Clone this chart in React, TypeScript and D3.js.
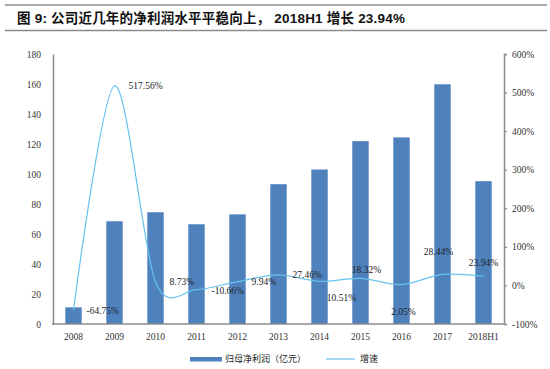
import { useEffect, useRef } from 'react'
import * as d3 from 'd3'

const years = ['2008', '2009', '2010', '2011', '2012', '2013', '2014', '2015', '2016', '2017', '2018H1']
const profit = [11.1, 68.5, 74.5, 66.5, 73.1, 93.2, 103.0, 121.9, 124.4, 159.8, 95.2]
const growth = [-64.75, 517.56, 8.73, -10.66, 9.94, 27.46, 10.51, 18.32, 2.05, 28.44, 23.94]
const leftTicks = [0, 20, 40, 60, 80, 100, 120, 140, 160, 180]
const rightTicks = [-100, 0, 100, 200, 300, 400, 500, 600]

// label placement relative to its point: [anchor, dx, dy]
const labelPlace: [string, number, number][] = [
  ['start', 13, 0], ['start', 14, 0], ['start', 14, 0], ['start', 15, 1], ['start', 14, 0], ['start', 14, 0],
  ['middle', 22, 16], ['middle', 6, -9], ['middle', 2, 27], ['middle', -4, -23], ['middle', 0, -14]
]

const BAR = '#4f81bd'
const LINE = '#66c3ee'
const AXIS = '#8c8c8c'
const SERIF = '"Liberation Serif", "Times New Roman", serif'
const CJK = '"Noto Sans CJK SC", sans-serif'

export default function App() {
  const ref = useRef<SVGSVGElement>(null)

  useEffect(() => {
    const svg = d3.select(ref.current!)
    svg.selectAll('*').remove()

    const m = { left: 53, right: 504, top: 54, bottom: 324 }
    const x = d3.scaleBand().domain(years).range([m.left, m.right]).paddingInner(0.6).paddingOuter(0.3)
    const y = d3.scaleLinear().domain([0, 180]).range([m.bottom, m.top])
    const y2 = d3.scaleLinear().domain([-100, 600]).range([m.bottom, m.top])
    const cx = (d: string) => x(d)! + x.bandwidth() / 2

    // title and rules
    svg.append('line').attr('x1', 5).attr('x2', 547).attr('y1', 5).attr('y2', 5)
      .attr('stroke', AXIS).attr('stroke-width', 1.5)
    svg.append('line').attr('x1', 5).attr('x2', 547).attr('y1', 30.5).attr('y2', 30.5)
      .attr('stroke', AXIS).attr('stroke-width', 1.5)
    svg.append('text').attr('x', 17).attr('y', 23)
      .attr('font-family', `"Liberation Sans", Arial, ${CJK}`).attr('font-weight', 'bold')
      .attr('font-size', 13.5).attr('fill', '#111')
      .attr('textLength', 388).attr('lengthAdjust', 'spacing')
      .text('图 9:  公司近几年的净利润水平平稳向上，  2018H1 增长 23.94%')

    // bars
    svg.append('g').selectAll('rect').data(profit).join('rect')
      .attr('x', (_, i) => x(years[i])!).attr('width', x.bandwidth())
      .attr('y', d => y(d)).attr('height', d => y(0) - y(d))
      .attr('fill', BAR)

    // axes
    const axL = svg.append('g').attr('transform', `translate(${m.left},0)`)
      .call(d3.axisLeft(y).tickValues(leftTicks).tickSize(0).tickPadding(12))
    axL.select('.domain').attr('stroke', AXIS).attr('stroke-width', 1.5)
    axL.selectAll('text').attr('font-family', SERIF).attr('font-size', 9.5).attr('fill', '#333')

    const axR = svg.append('g').attr('transform', `translate(${m.right},0)`)
      .call(d3.axisRight(y2).tickValues(rightTicks).tickSize(3).tickSizeOuter(3).tickPadding(5)
        .tickFormat(d => `${d}%`))
    axR.select('.domain').attr('stroke', AXIS).attr('stroke-width', 1.5)
    axR.selectAll('line').attr('stroke', AXIS).attr('stroke-width', 1.2)
    axR.selectAll('text').attr('font-family', SERIF).attr('font-size', 9.5).attr('fill', '#333')

    const axB = svg.append('g').attr('transform', `translate(0,${m.bottom})`)
      .call(d3.axisBottom(x).tickSize(0).tickPadding(9))
    axB.select('.domain').attr('stroke', AXIS).attr('stroke-width', 1.5)
      .attr('d', `M${m.left - 1},0H${m.right + 1}`)
    axB.selectAll('text').attr('font-family', SERIF).attr('font-size', 9.5).attr('fill', '#333')

    // growth line (smoothed like the spreadsheet original)
    const line = d3.line<number>()
      .x((_, i) => cx(years[i])).y(d => y2(d))
      .curve(d3.curveCardinal.tension(0.1))
    svg.append('path').datum(growth).attr('d', line)
      .attr('fill', 'none').attr('stroke', LINE).attr('stroke-width', 1.2)

    svg.append('g').selectAll('text').data(growth).join('text')
      .attr('x', (_, i) => cx(years[i]) + labelPlace[i][1])
      .attr('y', (d, i) => y2(d) + labelPlace[i][2])
      .attr('dy', '0.35em')
      .attr('text-anchor', (_, i) => labelPlace[i][0])
      .attr('font-family', SERIF).attr('font-size', 9.5).attr('fill', '#222')
      .text(d => `${d.toFixed(2)}%`)

    // legend
    const lg = svg.append('g').attr('transform', 'translate(0,359)')
    lg.append('rect').attr('x', 190).attr('y', -2).attr('width', 32).attr('height', 4.5).attr('fill', BAR)
    lg.append('text').attr('x', 225).attr('dy', '0.35em')
      .attr('font-family', CJK).attr('font-size', 9).attr('fill', '#222').text('归母净利润（亿元）')
    lg.append('line').attr('x1', 326).attr('x2', 355).attr('stroke', LINE).attr('stroke-width', 1.2)
    lg.append('text').attr('x', 360).attr('dy', '0.35em')
      .attr('font-family', CJK).attr('font-size', 9).attr('fill', '#222').text('增速')
  }, [])

  return (
    <svg ref={ref} width={550} height={369}
      style={{ position: 'absolute', left: 0, top: 0, background: '#fff', display: 'block' }} />
  )
}
